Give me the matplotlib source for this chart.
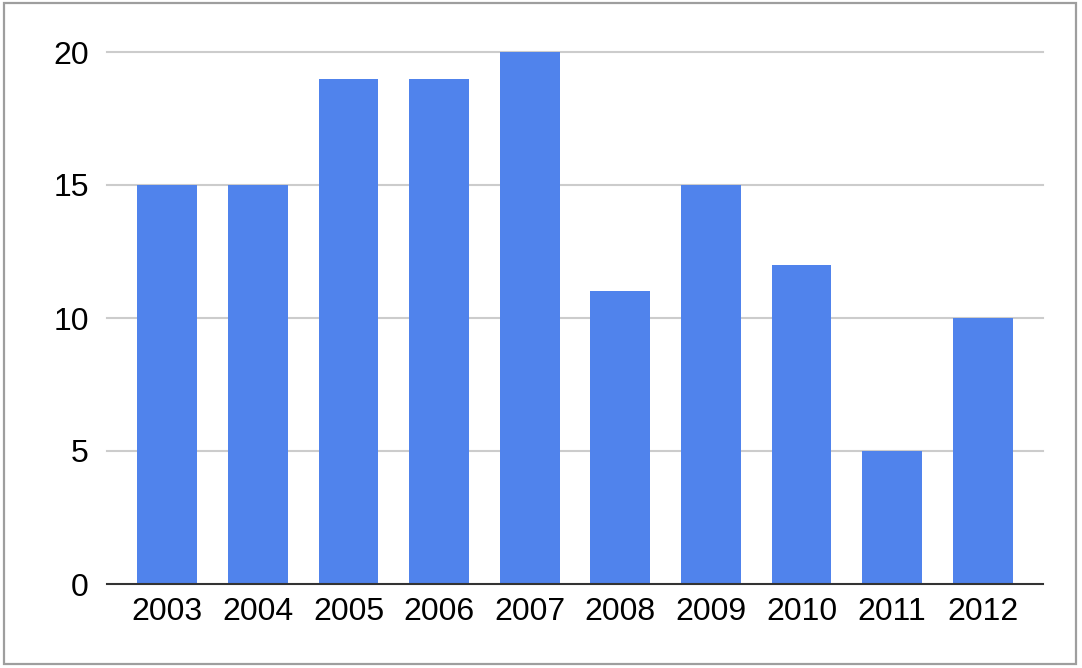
import matplotlib
matplotlib.use("Agg")
import matplotlib.pyplot as plt
from matplotlib.patches import Rectangle

# chart data
years = ["2003", "2004", "2005", "2006", "2007", "2008", "2009", "2010", "2011", "2012"]
values = [15, 15, 19, 19, 20, 11, 15, 12, 5, 10]
y_ticks = [0, 5, 10, 15, 20]

BAR_COLOR = "#5083EC"
W, H = 1082, 668

plt.rcParams["font.family"] = ["Liberation Sans", "DejaVu Sans"]

fig = plt.figure(figsize=(W / 100, H / 100), dpi=100)
fig.patch.set_facecolor("white")

# outer chart border
fig.add_artist(Rectangle((4 / W, 4 / H), 1072 / W, 661 / H, transform=fig.transFigure,
                         fill=False, edgecolor="#9e9e9e", linewidth=1.6))

ax = fig.add_axes([107 / W, 84 / H, 936 / W, 532 / H])
ax.bar(range(len(years)), values, width=0.66, color=BAR_COLOR, zorder=2, clip_on=False)

ax.set_xlim(-0.665, len(years) - 1 + 0.665)
ax.set_ylim(0, 20)
ax.set_xticks(range(len(years)))
ax.set_xticklabels(years)
ax.set_yticks(y_ticks)
ax.set_yticklabels([str(t) for t in y_ticks])

for t in y_ticks[1:]:
    ax.axhline(t, color="#cccccc", linewidth=1.5, zorder=1, clip_on=False)
ax.axhline(0, color="#333333", linewidth=1.5, zorder=3, clip_on=False)

for s in ax.spines.values():
    s.set_visible(False)
ax.tick_params(axis="both", length=0, labelsize=23, colors="black")
ax.tick_params(axis="y", pad=13)
ax.tick_params(axis="x", pad=9)

fig.savefig("out.png", dpi=100, facecolor="white")
